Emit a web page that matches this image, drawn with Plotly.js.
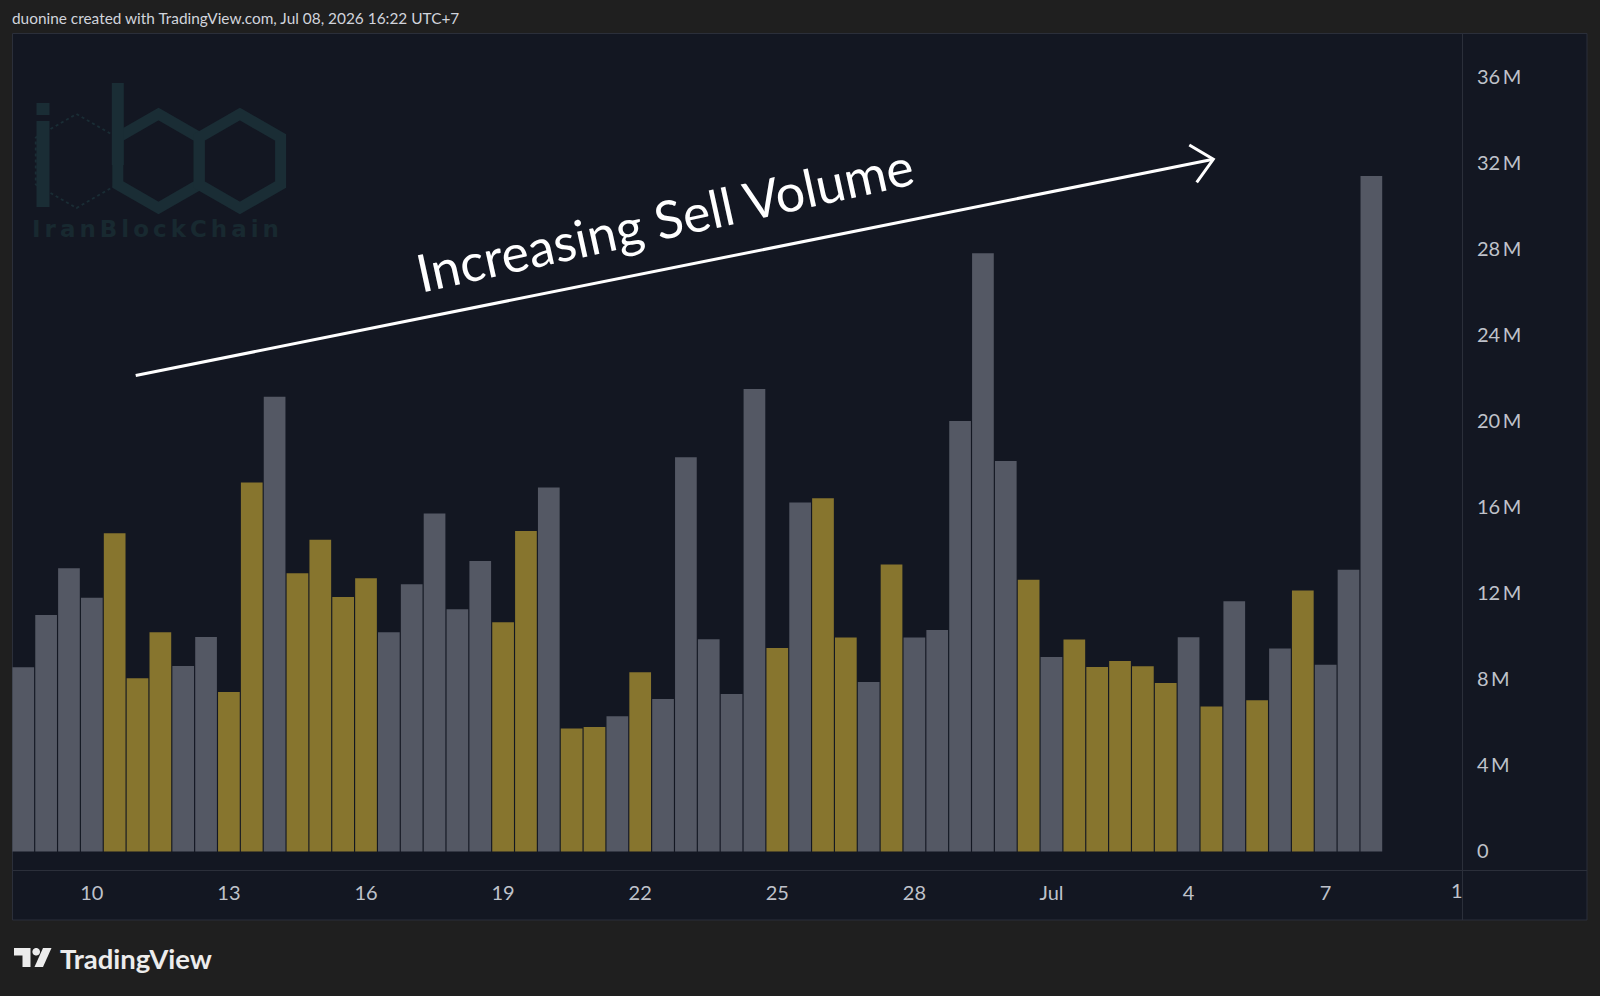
<!DOCTYPE html>
<html>
<head>
<meta charset="utf-8">
<script src="https://cdn.plot.ly/plotly-3.0.1.min.js"></script>
<style>
  html, body { margin: 0; padding: 0; background: #1f1f1f; }
  #chart { width: 1600px; height: 996px; }
  .annotation[data-index="2"] text { letter-spacing: 4px; }
</style>
</head>
<body>
<div id="chart"></div>
<script>
// 12-hour volume bars, Jun 8 – Jul 8 2026
const barTimes = [
  "2026-06-08 12:00",
  "2026-06-09 00:00", "2026-06-09 12:00", "2026-06-10 00:00", "2026-06-10 12:00",
  "2026-06-11 00:00", "2026-06-11 12:00", "2026-06-12 00:00", "2026-06-12 12:00",
  "2026-06-13 00:00", "2026-06-13 12:00", "2026-06-14 00:00", "2026-06-14 12:00",
  "2026-06-15 00:00", "2026-06-15 12:00", "2026-06-16 00:00", "2026-06-16 12:00",
  "2026-06-17 00:00", "2026-06-17 12:00", "2026-06-18 00:00", "2026-06-18 12:00",
  "2026-06-19 00:00", "2026-06-19 12:00", "2026-06-20 00:00", "2026-06-20 12:00",
  "2026-06-21 00:00", "2026-06-21 12:00", "2026-06-22 00:00", "2026-06-22 12:00",
  "2026-06-23 00:00", "2026-06-23 12:00", "2026-06-24 00:00", "2026-06-24 12:00",
  "2026-06-25 00:00", "2026-06-25 12:00", "2026-06-26 00:00", "2026-06-26 12:00",
  "2026-06-27 00:00", "2026-06-27 12:00", "2026-06-28 00:00", "2026-06-28 12:00",
  "2026-06-29 00:00", "2026-06-29 12:00", "2026-06-30 00:00", "2026-06-30 12:00",
  "2026-07-01 00:00", "2026-07-01 12:00", "2026-07-02 00:00", "2026-07-02 12:00",
  "2026-07-03 00:00", "2026-07-03 12:00", "2026-07-04 00:00", "2026-07-04 12:00",
  "2026-07-05 00:00", "2026-07-05 12:00", "2026-07-06 00:00", "2026-07-06 12:00",
  "2026-07-07 00:00", "2026-07-07 12:00", "2026-07-08 00:00"
];

// volume per bar, millions
const volumeM = [
  8.56, 10.99, 13.16, 11.79, 14.79, 8.05, 10.19, 8.62, 9.97, 7.41,
  17.15, 21.13, 12.93, 14.49, 11.83, 12.69, 10.19, 12.42, 15.70, 11.25,
  13.50, 10.65, 14.89, 16.91, 5.72, 5.79, 6.28, 8.33, 7.09, 18.32,
  9.86, 7.32, 21.49, 9.46, 16.21, 16.41, 9.94, 7.88, 13.33, 9.94,
  10.29, 20.00, 27.80, 18.14, 12.63, 9.04, 9.85, 8.57, 8.85, 8.61,
  7.83, 9.95, 6.74, 11.63, 7.03, 9.43, 12.13, 8.68, 13.09, 31.39
];

// candle direction per bar: U = up (gold), D = down (gray)
const barSide = [
  "D","D","D","D","U","U","U","D","D","U",
  "U","D","U","U","U","U","D","D","D","D",
  "D","U","U","D","U","U","D","U","D","D",
  "D","D","D","U","D","U","U","D","U","D",
  "D","D","D","D","U","D","U","U","U","U",
  "U","D","U","D","U","D","U","D","D","D"
];

const xTickDates = ["2026-06-10", "2026-06-13", "2026-06-16", "2026-06-19", "2026-06-22",
                    "2026-06-25", "2026-06-28", "2026-07-01", "2026-07-04", "2026-07-07"];
const xTickLabels = ["10", "13", "16", "19", "22", "25", "28", "Jul", "4", "7"];
const yTickVals = [0, 4, 8, 12, 16, 20, 24, 28, 32, 36];
const yTickLabels = ["0", "4\u2009M", "8\u2009M", "12\u2009M", "16\u2009M", "20\u2009M",
                     "24\u2009M", "28\u2009M", "32\u2009M", "36\u2009M"];

const headerText = "duonine created with TradingView.com, Jul 08, 2026 16:22 UTC+7";
const noteText = "Increasing Sell Volume";

// ---- styling ----
const UP_COLOR = "#87752e";
const DOWN_COLOR = "#545864";
const PANE_BG = "#131722";
const PANE_LINE = "#2b2f3a";
const LABEL_COLOR = "#bfc2ca";
const WM_COLOR = "#1a2d35";
const TICK_FONT = { family: "Lato, 'Open Sans', sans-serif", size: 20, color: LABEL_COLOR };

// plot-area frame in figure pixels, and helpers to turn pixels into paper units
const FR = { l: 12, r: 1462, t: 33, b: 870 };
const px = x => (x - FR.l) / (FR.r - FR.l);
const py = y => (FR.b - y) / (FR.b - FR.t);
const pathPx = (pts, close) =>
  pts.map((p, i) => (i ? "L" : "M") + px(p[0]).toFixed(5) + "," + py(p[1]).toFixed(5)).join(" ") + (close ? " Z" : "");
const hexPts = (cx, cy, R) =>
  [-90, -30, 30, 90, 150, 210].map(a => [cx + R * Math.cos(a * Math.PI / 180), cy + R * Math.sin(a * Math.PI / 180)]);
const circlePx = (cx, cy, r) => {
  const pts = [];
  for (let k = 0; k < 36; k++) {
    const a = k / 36 * 2 * Math.PI;
    pts.push([cx + r * Math.cos(a), cy + r * Math.sin(a)]);
  }
  return pathPx(pts, true);
};

const trace = {
  type: "bar",
  x: barTimes,
  y: volumeM,
  marker: {
    color: barSide.map(s => (s === "U" ? UP_COLOR : DOWN_COLOR)),
    line: { width: 0 }
  },
  hoverinfo: "skip"
};

const shapes = [
  // chart pane (price area + axis strips)
  { type: "rect", xref: "paper", yref: "paper", layer: "below",
    x0: px(12.5), x1: px(1587), y0: py(920), y1: py(33.5),
    fillcolor: PANE_BG, line: { color: PANE_LINE, width: 1 } },
  { type: "line", xref: "paper", yref: "paper", layer: "below",
    x0: px(12.5), x1: px(1587), y0: py(870.5), y1: py(870.5),
    line: { color: PANE_LINE, width: 1 } },
  { type: "line", xref: "paper", yref: "paper", layer: "below",
    x0: px(1462.5), x1: px(1462.5), y0: py(33.5), y1: py(920),
    line: { color: PANE_LINE, width: 1 } },

  // IranBlockChain watermark
  { type: "path", xref: "paper", yref: "paper", layer: "below",
    path: pathPx(hexPts(76.5, 161, 47), true),
    line: { color: WM_COLOR, width: 2, dash: "dot" } },
  { type: "path", xref: "paper", yref: "paper", layer: "below",
    path: pathPx(hexPts(158.5, 161, 47), true),
    line: { color: WM_COLOR, width: 11 } },
  { type: "path", xref: "paper", yref: "paper", layer: "below",
    path: pathPx(hexPts(239.9, 161, 47), true),
    line: { color: WM_COLOR, width: 11 } },
  { type: "path", xref: "paper", yref: "paper", layer: "below",
    path: pathPx([[117.8, 83], [117.8, 165]], false),
    line: { color: WM_COLOR, width: 12 } },
  { type: "path", xref: "paper", yref: "paper", layer: "below",
    path: pathPx([[43, 121], [43, 207]], false),
    line: { color: WM_COLOR, width: 13 } },
  { type: "path", xref: "paper", yref: "paper", layer: "below",
    path: pathPx([[43, 103], [43, 115]], false),
    line: { color: WM_COLOR, width: 13 } },

  // trend arrow
  { type: "path", xref: "paper", yref: "paper", layer: "above",
    path: pathPx([[135.7, 375.5], [1213.3, 159.3]], false),
    line: { color: "#ffffff", width: 3 } },
  { type: "path", xref: "paper", yref: "paper", layer: "above",
    path: pathPx([[1189.3, 145], [1213.3, 159.3], [1196.7, 182.3]], false),
    line: { color: "#ffffff", width: 3 } },

  // TradingView mark in the footer
  { type: "path", xref: "paper", yref: "paper", layer: "above",
    path: pathPx([[14, 948], [30.5, 948], [30.5, 967], [22.5, 967], [22.5, 955.5], [14, 955.5]], true),
    fillcolor: "#ececec", line: { width: 0 } },
  { type: "path", xref: "paper", yref: "paper", layer: "above",
    path: circlePx(36.2, 951.8, 3.8),
    fillcolor: "#ececec", line: { width: 0 } },
  { type: "path", xref: "paper", yref: "paper", layer: "above",
    path: pathPx([[43, 948], [51.5, 948], [43, 967], [34.5, 967]], true),
    fillcolor: "#ececec", line: { width: 0 } }
];

const annotations = [
  { xref: "paper", yref: "paper", x: px(10), y: py(18.5), xanchor: "left", yanchor: "middle",
    showarrow: false, text: headerText,
    font: { family: "Lato, 'Open Sans', sans-serif", size: 15.4, color: "#d1d4dc" } },
  { xref: "paper", yref: "paper", x: px(664), y: py(219), xanchor: "center", yanchor: "middle",
    showarrow: false, text: noteText, textangle: -12.4,
    font: { family: "Lato, 'Open Sans', sans-serif", size: 52, color: "#ffffff" } },
  { xref: "paper", yref: "paper", x: px(157.5), y: py(229), xanchor: "center", yanchor: "middle",
    showarrow: false, text: "IranBlockChain",
    font: { family: "'DejaVu Sans', sans-serif", size: 23, weight: 700, color: "#182930" } },
  { xref: "paper", yref: "paper", x: px(58), y: py(958), xanchor: "left", yanchor: "middle",
    showarrow: false, text: "TradingView",
    font: { family: "Lato, 'Open Sans', sans-serif", size: 27.5, weight: 700, color: "#ececec" } },
  // Jul 10 label, cut off by the price scale
  { xref: "paper", yref: "paper", x: px(1456.5), y: py(890), xanchor: "center", yanchor: "middle",
    showarrow: false, text: "1", font: TICK_FONT }
];

const layout = {
  width: 1600,
  height: 996,
  margin: { l: FR.l, r: 1600 - FR.r, t: FR.t, b: 996 - FR.b, pad: 0 },
  paper_bgcolor: "#1f1f1f",
  plot_bgcolor: "rgba(0,0,0,0)",
  bargap: 0.05,
  showlegend: false,
  xaxis: {
    type: "date",
    range: ["2026-06-08 06:05", "2026-07-09 23:36"],
    tickvals: xTickDates,
    ticktext: xTickLabels,
    ticks: "",
    ticklabelstandoff: 9,
    tickfont: TICK_FONT,
    showgrid: false,
    zeroline: false,
    showline: false,
    fixedrange: true
  },
  yaxis: {
    side: "right",
    range: [-0.86, 38.03],
    tickvals: yTickVals,
    ticktext: yTickLabels,
    ticks: "",
    ticklabelstandoff: 14,
    tickfont: TICK_FONT,
    showgrid: false,
    zeroline: false,
    showline: false,
    fixedrange: true
  },
  shapes: shapes,
  annotations: annotations
};

Plotly.newPlot("chart", [trace], layout, { staticPlot: true, displayModeBar: false });
</script>
</body>
</html>
